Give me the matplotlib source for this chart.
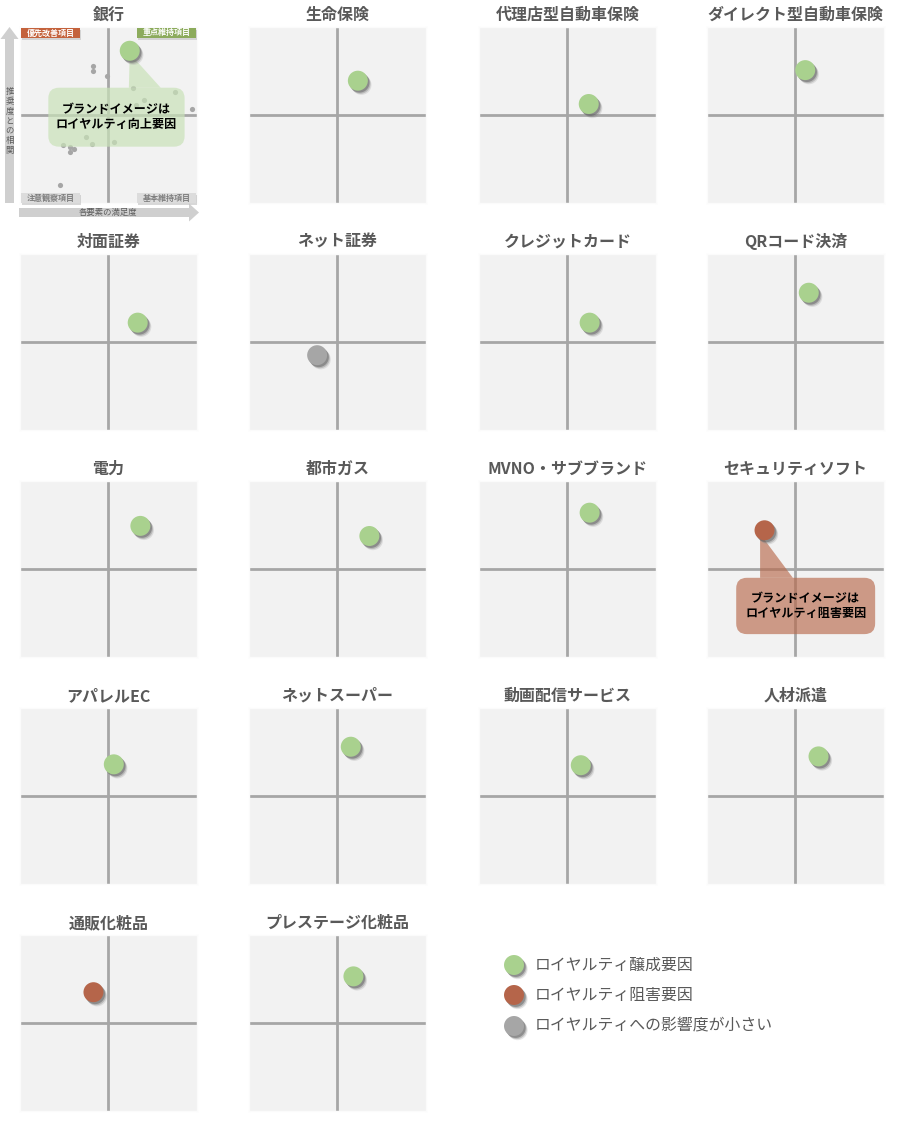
import matplotlib
matplotlib.use('Agg')
import matplotlib.pyplot as plt
import matplotlib.patches as patches
import matplotlib.patheffects as pe

plt.rcParams['font.family'] = ['Noto Sans CJK JP', 'DejaVu Sans']

FIG_W, FIG_H = 904, 1125

# 業種ごとのパネル
PANEL_NAMES = ['銀行', '生命保険', '代理店型自動車保険', 'ダイレクト型自動車保険',
               '対面証券', 'ネット証券', 'クレジットカード', 'QRコード決済',
               '電力', '都市ガス', 'MVNO・サブブランド', 'セキュリティソフト',
               'アパレルEC', 'ネットスーパー', '動画配信サービス', '人材派遣',
               '通販化粧品', 'プレステージ化粧品']
# ブランドイメージの位置 (中心=0, 枠=±1)
BRAND_X = [0.24, 0.23, 0.24, 0.11, 0.33, -0.23, 0.25, 0.15, 0.36,
           0.36, 0.25, -0.35, 0.06, 0.15, 0.15, 0.26, -0.17, 0.18]
BRAND_Y = [0.73, 0.39, 0.125, 0.51, 0.22, -0.15, 0.22, 0.56, 0.49,
           0.375, 0.64, 0.44, 0.36, 0.56, 0.35, 0.45, 0.35, 0.53]
BRAND_TYPE = ['up', 'up', 'up', 'up', 'up', 'small', 'up', 'up', 'up',
              'up', 'up', 'down', 'up', 'up', 'up', 'up', 'down', 'up']

# 銀行パネルのその他の要素
BANK_X = [-0.17, -0.17, -0.02, 0.28, 0.40, 0.75, 0.94, 0.31,
          -0.25, -0.19, 0.06, -0.51, -0.44, -0.39, -0.44, -0.55]
BANK_Y = [0.56, 0.50, 0.44, 0.31, 0.17, 0.26, 0.07, 0.11,
          -0.25, -0.33, -0.31, -0.34, -0.36, -0.39, -0.42, -0.80]

TYPE_COLORS = {'up': '#a9d18e', 'down': '#b5654a', 'small': '#a6a6a6'}
LEGEND_LABELS = {'up': 'ロイヤルティ醸成要因',
                 'down': 'ロイヤルティ阻害要因',
                 'small': 'ロイヤルティへの影響度が小さい'}

COL_LEFT = [20, 249, 479, 707]
ROW_TOP = [27, 254, 481, 708, 935]
PANEL_W, PANEL_H = 177, 176
TEXT_COLOR = '#595959'

# ぼかし風の影 (重ね描き)
SHADOW = [pe.SimplePatchShadow(offset=(2.6, -3.0), shadow_rgbFace='#9a9a9a', alpha=0.25),
          pe.SimplePatchShadow(offset=(1.9, -2.2), shadow_rgbFace='#777777', alpha=0.35),
          pe.SimplePatchShadow(offset=(1.2, -1.4), shadow_rgbFace='#555555', alpha=0.45),
          pe.Normal()]


def px_rect(left, top, w, h):
    return [left / FIG_W, 1 - (top + h) / FIG_H, w / FIG_W, h / FIG_H]


fig = plt.figure(figsize=(FIG_W / 100, FIG_H / 100), dpi=100)
fig.patch.set_facecolor('white')

panel_axes = []
for i, name in enumerate(PANEL_NAMES):
    left = COL_LEFT[i % 4]
    top = ROW_TOP[i // 4]
    ax = fig.add_axes(px_rect(left, top, PANEL_W, PANEL_H))
    ax.set_xlim(-1, 1)
    ax.set_ylim(-1, 1)
    ax.set_facecolor('#f2f2f2')
    ax.set_xticks([])
    ax.set_yticks([])
    for sp in ax.spines.values():
        sp.set_color('#fbfbfb')
        sp.set_linewidth(1)
    ax.axvline(0, color='#a6a6a6', lw=2, zorder=1)
    ax.axhline(0, color='#a6a6a6', lw=2, zorder=1)
    ax.scatter([BRAND_X[i]], [BRAND_Y[i]], s=207, color=TYPE_COLORS[BRAND_TYPE[i]],
               zorder=5, path_effects=SHADOW, clip_on=False, linewidths=0)
    panel_axes.append(ax)

# 銀行パネル: その他要素と吹き出し
ax = panel_axes[0]
ax.scatter(BANK_X, BANK_Y, s=14, color='#a6a6a6', zorder=2, linewidths=0)
ax.add_patch(patches.Polygon([(0.23, 0.31), (0.59, 0.31), (0.24, 0.70)],
                             closed=True, facecolor='#c9e2b8', alpha=0.7,
                             edgecolor='none', zorder=3))
ax.add_patch(patches.FancyBboxPatch((-0.68, -0.36), 1.54, 0.67,
                                    boxstyle='round,pad=0,rounding_size=0.12',
                                    facecolor='#c9e2b8', alpha=0.7,
                                    edgecolor='none', zorder=3, clip_on=False))
ax.text(0.09, -0.025, 'ブランドイメージは\nロイヤルティ向上要因', ha='center', va='center',
        fontsize=8.7, fontweight='bold', color='black', linespacing=1.15, zorder=6)

# セキュリティソフト: 吹き出し
ax = panel_axes[11]
ax.add_patch(patches.Polygon([(-0.40, -0.10), (-0.03, -0.10), (-0.40, 0.40)],
                             closed=True, facecolor='#b86a4c', alpha=0.65,
                             edgecolor='none', zorder=3))
ax.add_patch(patches.FancyBboxPatch((-0.67, -0.74), 1.57, 0.64,
                                    boxstyle='round,pad=0,rounding_size=0.12',
                                    facecolor='#b86a4c', alpha=0.65,
                                    edgecolor='none', zorder=3, clip_on=False))
ax.text(0.115, -0.42, 'ブランドイメージは\nロイヤルティ阻害要因', ha='center', va='center',
        fontsize=8.7, fontweight='bold', color='black', linespacing=1.15, zorder=6)

# ピクセル座標のオーバーレイ
ov = fig.add_axes([0, 0, 1, 1])
ov.set_xlim(0, FIG_W)
ov.set_ylim(FIG_H, 0)
ov.axis('off')

for i, name in enumerate(PANEL_NAMES):
    left = COL_LEFT[i % 4]
    top = ROW_TOP[i // 4]
    ov.text(left + PANEL_W / 2, top - 12, name, ha='center', va='center',
            fontsize=11.5, fontweight='bold', color=TEXT_COLOR)

# 銀行パネルの軸矢印
arrow_c = '#cfcfcf'
ov.add_patch(patches.Polygon([(5, 203), (5, 39), (0.5, 39), (9.5, 27), (18.5, 39),
                              (14, 39), (14, 203)], closed=True,
                             facecolor=arrow_c, edgecolor='none'))
ov.text(9.5, 121, '\n'.join('推奨度との相関'), ha='center', va='center',
        fontsize=6, color=TEXT_COLOR, linespacing=1.1)
ov.add_patch(patches.Polygon([(19, 208), (189, 208), (189, 203.5), (199, 212.5),
                              (189, 221.5), (189, 217), (19, 217)], closed=True,
                             facecolor=arrow_c, edgecolor='none'))
ov.text(108, 212.5, '各要素の満足度', ha='center', va='center',
        fontsize=6, color=TEXT_COLOR)

# 銀行パネルの象限ラベル
quad_labels = [('優先改善項目', 21, 28, '#c4623c', 'white'),
               ('重点維持項目', 137, 28, '#8cab5c', 'white'),
               ('注意観察項目', 21, 193, '#dcdcdc', '#7f7f7f'),
               ('基本維持項目', 137, 193, '#dcdcdc', '#7f7f7f')]
for text, x0, y0, fc, tc in quad_labels:
    ov.add_patch(patches.Rectangle((x0 + 1.5, y0 + 1.5), 59, 10, facecolor='#bfbfbf',
                                   edgecolor='none', alpha=0.6))
    ov.add_patch(patches.Rectangle((x0, y0), 59, 10, facecolor=fc, edgecolor='none'))
    ov.text(x0 + 29.5, y0 + 5, text, ha='center', va='center', fontsize=5.8,
            color=tc, fontweight='bold')

# 凡例
legend_y = [965, 995, 1026]
for key, ly in zip(['up', 'down', 'small'], legend_y):
    ov.scatter([514], [ly], s=207, color=TYPE_COLORS[key], path_effects=SHADOW,
               linewidths=0)
    ov.text(535, ly, LEGEND_LABELS[key], ha='left', va='center', fontsize=11.4,
            color=TEXT_COLOR)

fig.savefig('out.png', dpi=100, facecolor='white')
